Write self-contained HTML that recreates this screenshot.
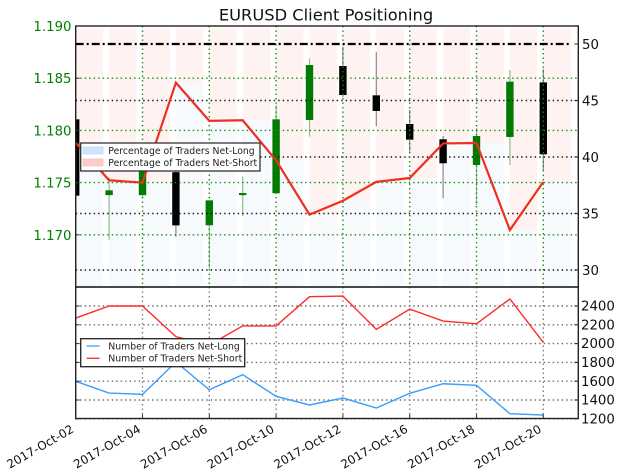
<!DOCTYPE html>
<html lang="en">
<head>
<meta charset="utf-8">
<title>EURUSD Client Positioning</title>
<style>
html,body{margin:0;padding:0;background:#fff;width:624px;height:476px;overflow:hidden}
svg{display:block;font-family:"DejaVu Sans","Liberation Sans",sans-serif;filter:blur(0.3px)}
</style>
</head>
<body>
<svg id="chart" xmlns="http://www.w3.org/2000/svg" width="624" height="476" viewBox="0 0 624 476">
  <defs>
    <clipPath id="main-clip"><rect x="75.7" y="26" width="502.6" height="261"/></clipPath>
    <clipPath id="lower-clip"><rect x="75.7" y="287" width="502.6" height="131.5"/></clipPath>
  </defs>
  <text x="326" y="20.5" font-size="16.3" text-anchor="middle" fill="#111">EURUSD Client Positioning</text>
  <g id="bars" clip-path="url(#main-clip)"></g>
  <g id="candles" clip-path="url(#main-clip)"></g>
  <g id="grid"></g>
  <g id="series" clip-path="url(#main-clip)"></g>
  <g id="lower" clip-path="url(#lower-clip)"></g>
  <g id="axes"></g>

  <g>
    <rect x="80.7" y="143" width="179.3" height="28" fill="#fff" stroke="#333" stroke-width="1.3"/>
    <rect x="83" y="147" width="20" height="7" fill="#cfe4fb" stroke="#bcd8f8" stroke-width="0.7"/>
    <text x="108.3" y="154" font-size="9.3" fill="#222">Percentage of Traders Net-Long</text>
    <rect x="83" y="159" width="20" height="7" fill="#ffcccc" stroke="#f8bcbc" stroke-width="0.7"/>
    <text x="108.3" y="166" font-size="9.3" fill="#222">Percentage of Traders Net-Short</text>
  </g>
  <g>
    <rect x="80.7" y="338.7" width="164" height="28" fill="#fff" stroke="#222" stroke-width="1.3"/>
    <line x1="86.7" x2="99.5" y1="346" y2="346" stroke="#3a9dff" stroke-width="1.3"/>
    <text x="108.3" y="349.5" font-size="9.3" fill="#222">Number of Traders Net-Long</text>
    <line x1="86.7" x2="99.5" y1="358.3" y2="358.3" stroke="#ff2a2a" stroke-width="1.3"/>
    <text x="108.3" y="361.5" font-size="9.3" fill="#222">Number of Traders Net-Short</text>
  </g>
</svg>
<script>
var categories = ['2017-Oct-02','2017-Oct-03','2017-Oct-04','2017-Oct-05','2017-Oct-06','2017-Oct-09','2017-Oct-10','2017-Oct-11','2017-Oct-12','2017-Oct-13','2017-Oct-16','2017-Oct-17','2017-Oct-18','2017-Oct-19','2017-Oct-20'];
var pctNetLong = [41.27,37.94,37.73,46.58,43.2,43.25,39.7,34.9,36.13,37.8,38.14,41.2,41.24,33.54,37.8];
var candleOpen = [1.18106,1.1738,1.1738,1.176,1.17091,1.1738,1.17398,1.181,1.18617,1.18336,1.18061,1.17915,1.17669,1.17937,1.1846];
var candleClose = [1.17375,1.17426,1.1765,1.1709,1.1733,1.174,1.18106,1.18626,1.18339,1.18186,1.17911,1.17685,1.17946,1.18467,1.17771];
var candleHigh = [1.18106,1.1755,1.1775,1.177,1.1733,1.17557,1.18243,1.1869,1.18803,1.18748,1.18196,1.17946,1.18023,1.18579,1.18588];
var candleLow = [1.17375,1.1695,1.1735,1.1698,1.1668,1.1718,1.17398,1.1794,1.1832,1.1804,1.17796,1.1735,1.17285,1.17669,1.17614];
var countNetShort = [2272,2400,2400,2074,1985,2188,2188,2499,2506,2151,2367,2240,2211,2475,2012];
var countNetLong = [1599,1474,1460,1804,1509,1669,1439,1347,1421,1315,1471,1573,1556,1254,1240];
var priceTicks = ['1.170','1.175','1.180','1.185','1.190'];
var pctTicks = ['30','35','40','45','50'];
var countTicks = ['1200','1400','1600','1800','2000','2200','2400'];
var referenceLevel = 50;

var NS = 'http://www.w3.org/2000/svg';
function xAt(i){ return 75.7 + 33.4 * i; }
function yPrice(p){ return 26 + (1.19 - p) * 10440; }
function yPct(v){ return 44 + (50 - v) * 11.3; }
function yCount(c){ return 306 + (2400 - c) * 0.094; }
function mk(parent, tag, attrs, txt){
  var el = document.createElementNS(NS, tag);
  for (var k in attrs) el.setAttribute(k, attrs[k]);
  if (txt !== undefined) el.textContent = txt;
  parent.appendChild(el);
  return el;
}
function pathOf(vals, yFn){
  return vals.map(function(v, i){ return (i ? 'L' : 'M') + xAt(i).toFixed(2) + ' ' + yFn(v).toFixed(2); }).join(' ');
}
var gBars = document.getElementById('bars');
var gCandles = document.getElementById('candles');
var gGrid = document.getElementById('grid');
var gSeries = document.getElementById('series');
var gLower = document.getElementById('lower');
var gAxes = document.getElementById('axes');
var LEFT = 75.7, RIGHT = 578.3, TOP = 26, MID = 287, BOTTOM = 418.5, BARW = 27.4, BARTOP = 28.3;

pctNetLong.forEach(function(v, i){
  var y = yPct(v);
  var pink = mk(gBars, 'rect', {x: xAt(i), y: BARTOP, width: BARW, height: Math.max(0, y - BARTOP), fill: '#fff3f1'});
  
  
  var blue = mk(gBars, 'rect', {x: xAt(i), y: y, width: BARW, height: Math.max(0, MID - y), fill: '#f6fafd'});
  
  
});

categories.forEach(function(c, i){
  var up = candleClose[i] >= candleOpen[i];
  var col = up ? '#007a00' : '#000';
  var wick = mk(gCandles, 'line', {x1: xAt(i), x2: xAt(i), y1: yPrice(candleHigh[i]), y2: yPrice(candleLow[i]), stroke: col, 'stroke-width': 1.2, 'stroke-opacity': 0.45});
  
  
  var top = yPrice(Math.max(candleOpen[i], candleClose[i]));
  var bot = yPrice(Math.min(candleOpen[i], candleClose[i]));
  var body = mk(gCandles, 'rect', {x: xAt(i) - 3.7, y: top, width: 7.4, height: bot - top, fill: col});
  
  
});

var DOT = '1.4 3.1';
priceTicks.forEach(function(t){
  var y = yPrice(parseFloat(t));
  if (y <= TOP + 1) return;
  var g = mk(gGrid, 'line', {x1: LEFT, x2: RIGHT, y1: y, y2: y, stroke: '#108a10', 'stroke-width': 1.4, 'stroke-dasharray': DOT});
  
  
});
pctTicks.forEach(function(t){
  var y = yPct(parseFloat(t));
  if (parseFloat(t) === referenceLevel) return;
  var g = mk(gGrid, 'line', {x1: LEFT, x2: RIGHT, y1: y, y2: y, stroke: '#111', 'stroke-width': 1.4, 'stroke-dasharray': DOT});
  
  
});
countTicks.forEach(function(t){
  var y = yCount(parseFloat(t));
  var g = mk(gGrid, 'line', {x1: LEFT, x2: RIGHT, y1: y, y2: y, stroke: '#666', 'stroke-width': 1.4, 'stroke-dasharray': DOT});
  
  
});
categories.forEach(function(c, i){
  if (i % 2) return;
  var v1 = mk(gGrid, 'line', {x1: xAt(i), x2: xAt(i), y1: TOP, y2: MID, stroke: '#108a10', 'stroke-width': 1.4, 'stroke-dasharray': DOT});
  
  
  var v2 = mk(gGrid, 'line', {x1: xAt(i), x2: xAt(i), y1: MID, y2: BOTTOM, stroke: '#777', 'stroke-width': 1.4, 'stroke-dasharray': DOT});
  
  
});

var ref = mk(gSeries, 'line', {x1: LEFT, x2: xAt(categories.length - 1) + BARW, y1: yPct(referenceLevel), y2: yPct(referenceLevel), stroke: '#000', 'stroke-width': 2.2, 'stroke-dasharray': '8 3 2 3'});


var pctLine = mk(gSeries, 'path', {d: pathOf(pctNetLong, yPct), fill: 'none', stroke: '#ee2f20', 'stroke-width': 2.2, 'stroke-linejoin': 'miter'});


var shortLine = mk(gLower, 'path', {d: pathOf(countNetShort, yCount), fill: 'none', stroke: '#ff2a2a', 'stroke-width': 1.4});


var longLine = mk(gLower, 'path', {d: pathOf(countNetLong, yCount), fill: 'none', stroke: '#3a9dff', 'stroke-width': 1.4});



var frameMain = mk(gAxes, 'rect', {x: LEFT, y: TOP, width: RIGHT - LEFT, height: MID - TOP, fill: 'none', stroke: '#222', 'stroke-width': 1.4});


var frameLower = mk(gAxes, 'rect', {x: LEFT, y: MID, width: RIGHT - LEFT, height: BOTTOM - MID, fill: 'none', stroke: '#222', 'stroke-width': 1.4});



priceTicks.forEach(function(t){
  var y = yPrice(parseFloat(t));
  var m = mk(gAxes, 'line', {x1: LEFT, x2: LEFT + 4, y1: y, y2: y, stroke: '#333', 'stroke-width': 1});
  
  
  var l = mk(gAxes, 'text', {x: 71.5, y: y + 5, 'font-size': 13.3, 'text-anchor': 'end', fill: '#007f00'}, t);
  
  
});
pctTicks.forEach(function(t){
  var y = yPct(parseFloat(t));
  var m = mk(gAxes, 'line', {x1: RIGHT - 4, x2: RIGHT, y1: y, y2: y, stroke: '#333', 'stroke-width': 1});
  
  
  var l = mk(gAxes, 'text', {x: 582, y: y + 5, 'font-size': 13.3, fill: '#111'}, t);
  
  
});
countTicks.forEach(function(t){
  var y = yCount(parseFloat(t));
  var m1 = mk(gAxes, 'line', {x1: RIGHT - 4, x2: RIGHT, y1: y, y2: y, stroke: '#333', 'stroke-width': 1});
  
  
  var m2 = mk(gAxes, 'line', {x1: LEFT, x2: LEFT + 4, y1: y, y2: y, stroke: '#333', 'stroke-width': 1});
  
  
  var l = mk(gAxes, 'text', {x: 581, y: y + 4.6, 'font-size': 13.3, fill: '#111'}, t);
  
  
});
categories.forEach(function(c, i){
  if (i % 2) return;
  var m = mk(gAxes, 'line', {x1: xAt(i), x2: xAt(i), y1: BOTTOM - 4, y2: BOTTOM, stroke: '#333', 'stroke-width': 1});
  
  
  var x = xAt(i) - 1, y = 431.5;
  var l = mk(gAxes, 'text', {x: x, y: y, 'font-size': 11.9, 'text-anchor': 'end', fill: '#111', transform: 'rotate(-30 ' + x + ' ' + y + ')'}, c);
  
  
});
</script>
</body>
</html>
